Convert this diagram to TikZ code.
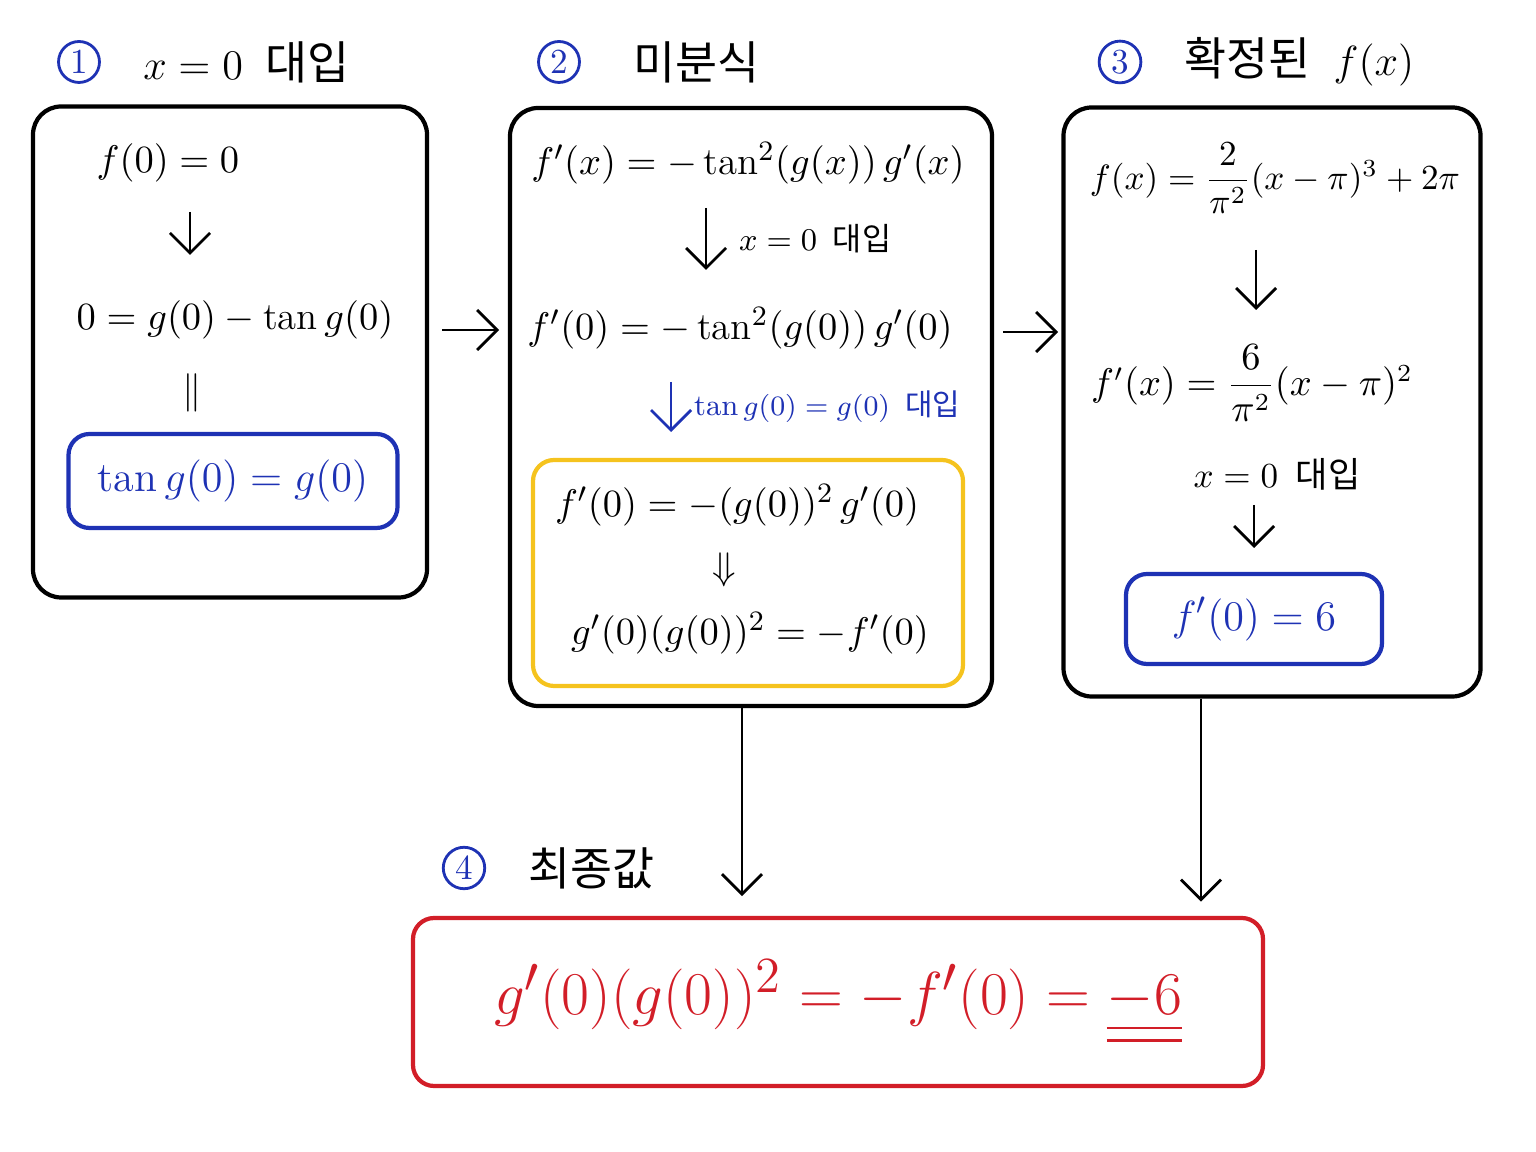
\documentclass[tikz,border=0pt]{standalone}
\usepackage{amsmath}
\usepackage{fontspec}
\newfontfamily\kr{Noto Sans CJK KR}
\usetikzlibrary{arrows.meta, positioning}
\definecolor{inkblue}{RGB}{30,50,180}
\definecolor{inkred}{RGB}{210,30,40}
\definecolor{inkyellow}{RGB}{245,195,30}
\tikzset{
  panel/.style={draw=black, very thick, rounded corners=8pt},
  hbox/.style={draw=#1, very thick, rounded corners=6pt},
  eq/.style={font=\fontsize{11}{13}\selectfont},
  ttl/.style={font=\fontsize{13}{15}\selectfont},
  lbl/.style={font=\fontsize{9}{11}\selectfont},
  num/.style={draw=inkblue, thick, circle, inner sep=1.2pt, text=inkblue, font=\normalsize},
  arr/.style={thick, -{Straight Barb[length=2mm]}},
}
\begin{document}
\begin{tikzpicture}
\useasboundingbox (0,0) rectangle (15.36,11.52);
% panels
\node (box1) [panel, minimum width=3.94cm, minimum height=4.91cm] at (2.30,8.00) {};
\node (box2) [panel, minimum width=4.82cm, minimum height=5.98cm] at (7.51,7.45) {};
\node (box3) [panel, minimum width=4.17cm, minimum height=5.89cm] at (12.72,7.50) {};
\node (box4) [hbox=inkred, minimum width=8.50cm, minimum height=1.68cm] at (8.38,1.50) {};
\node (ybox) [hbox=inkyellow, minimum width=4.30cm, minimum height=2.26cm] at (7.48,5.79) {};
\node (bbox1) [hbox=inkblue, minimum width=3.29cm, minimum height=0.94cm] at (2.33,6.71) {};
\node (bbox3) [hbox=inkblue, minimum width=2.56cm, minimum height=0.90cm] at (12.54,5.33) {};

% titles
\node (n1) [num] at (0.79,10.90) {1};
\node (t1) [ttl, right=0.3cm of n1] {$x=0$\enspace\kr 대입};
\node (n2) [num] at (5.59,10.90) {2};
\node (t2) [ttl, right=0.4cm of n2] {\kr 미분식};
\node (n3) [num] at (11.20,10.90) {3};
\node (t3) [ttl, right=0.3cm of n3] {{\kr 확정된}\enspace$f(x)$};
\node (n4) [num] at (4.64,2.84) {4};
\node (t4) [ttl, right=0.3cm of n4] {\kr 최종값};

% panel 1
\node (a1) [eq] at (1.68,9.89) {$f(0)=0$};
\node (a2) [eq] at (2.35,8.32) {$0=g(0)-\tan g(0)$};
\node (a3) [eq] at (1.92,7.59) {$\Vert$};
\node (a4) [eq, font=\fontsize{12}{14}\selectfont, text=inkblue] at (bbox1) {$\tan g(0)=g(0)$};
\draw [arr] (1.90,9.40) -- (1.90,8.97);

% panel 2
\node (b1) [eq] at (7.48,9.89) {$f'(x)=-\tan^2(g(x))\,g'(x)$};
\node (b2) [eq] at (7.40,8.24) {$f'(0)=-\tan^2(g(0))\,g'(0)$};
\node (b3) [eq] at (7.37,6.47) {$f'(0)=-(g(0))^2\,g'(0)$};
\node (b4) [eq] at (7.24,5.82) {$\Downarrow$};
\node (b5) [eq] at (7.50,5.19) {$g'(0)(g(0))^2=-f'(0)$};
\draw [arr] (7.06,9.44) -- (7.06,8.82) node [midway, right=0.2cm, lbl] {$x=0$\enspace{\kr 대입}};
\draw [arr, inkblue] (6.71,7.70) -- (6.71,7.20) node [midway, right=0.1cm, lbl, font=\fontsize{8.5}{10}\selectfont, text=inkblue] {$\tan g(0)=g(0)$\enspace{\kr 대입}};

% panel 3
\node (c1) [eq, font=\fontsize{10}{12}\selectfont] at (12.75,9.74) {$f(x)=\dfrac{2}{\pi^2}(x-\pi)^3+2\pi$};
\node (c2) [eq, font=\fontsize{10.5}{12}\selectfont] at (12.52,7.69) {$f'(x)=\dfrac{6}{\pi^2}(x-\pi)^2$};
\node (c3) [lbl, font=\fontsize{10}{12}\selectfont] at (12.77,6.78) {$x=0$\enspace\kr 대입};
\node (c4) [eq, font=\fontsize{13}{15}\selectfont, text=inkblue] at (bbox3) {$f'(0)=6$};
\draw [arr] (12.56,9.02) -- (12.56,8.42);
\draw [arr] (12.54,6.47) -- (12.54,6.04);

% final
\node (d1) [font=\fontsize{19}{22}\selectfont, text=inkred] at (8.38,1.50)
  {$g'(0)(g(0))^2=-f'(0)=\underline{\underline{-6}}$};

% connectors
\draw [arr] (box1.east |- 0,8.22) ++(0.13,0) -- ++(0.57,0);
\draw [arr] (box2.east |- 0,8.20) ++(0.09,0) -- ++(0.55,0);
\draw [arr] ([xshift=-0.09cm]box2.south) -- ++(0,-1.88);
\draw [arr] ([xshift=-0.71cm]box3.south) -- ++(0,-2.03);
\end{tikzpicture}
\end{document}
